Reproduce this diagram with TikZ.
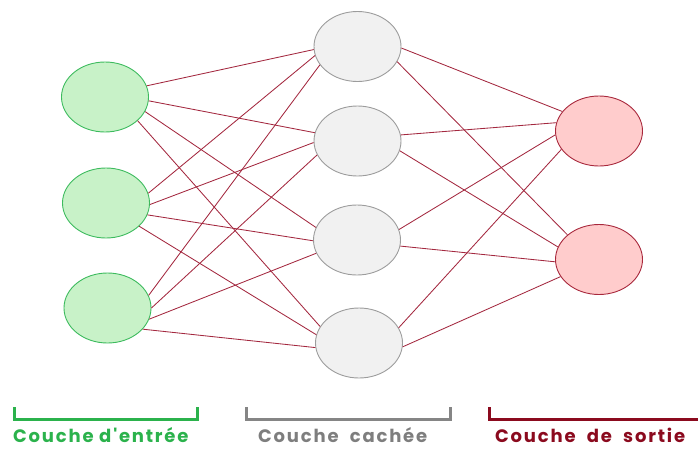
\documentclass[tikz,border=0pt]{standalone}
\usepackage{fontspec}
\newfontfamily\lblfont[LetterSpace=10]{Poppins}
\usetikzlibrary{shapes.geometric}
\definecolor{edgecol}{HTML}{A3283F}
\definecolor{ingreen}{HTML}{C8F2C8}
\definecolor{ingreenline}{HTML}{3DBB5E}
\definecolor{hidfill}{HTML}{F1F1F1}
\definecolor{hidline}{HTML}{9C9C9C}
\definecolor{outfill}{HTML}{FFCCCC}
\definecolor{outline}{HTML}{A8283C}
\definecolor{brgreen}{HTML}{2BB24C}
\definecolor{brgray}{HTML}{858585}
\definecolor{brred}{HTML}{8B0A1E}
\tikzset{
  neuron/.style={ellipse, minimum width=87pt, minimum height=70pt, inner sep=0pt, line width=0.9pt},
  inp/.style={neuron, fill=ingreen, draw=ingreenline},
  hid/.style={neuron, fill=hidfill, draw=hidline},
  outn/.style={neuron, fill=outfill, draw=outline},
  conn/.style={draw=edgecol, line width=0.85pt},
  bracket/.style={line width=3pt},
  lbl/.style={anchor=base west, inner sep=0pt, font=\lblfont\bfseries\fontsize{18}{20}\selectfont}
}
\begin{document}
\begin{tikzpicture}[x=1pt,y=-1pt]
\useasboundingbox (0,0) rectangle (698,448);
% nodes
\node[inp] (i1) at (105,97) {};
\node[inp] (i2) at (106,203) {};
\node[inp] (i3) at (107.5,308) {};
\node[hid] (h1) at (357.5,46.5) {};
\node[hid] (h2) at (357.5,141) {};
\node[hid] (h3) at (357,240) {};
\node[hid] (h4) at (359,343) {};
\node[outn] (o1) at (599,131) {};
\node[outn] (o2) at (599,259.5) {};
% input -> hidden
\draw[conn] (i1.15.6) -- (h1.184.6);
\draw[conn] (i1.-5.3) -- (h2.169.1);
\draw[conn] (i1.-20.6) -- (h3.163.7);
\draw[conn] (i1.-36.3) -- (h4.157.2);
\draw[conn] (i2.13.4) -- (h1.192.9);
\draw[conn] (i2.-2.7) -- (h2.182.7);
\draw[conn] (i2.-16.8) -- (h3.181.4);
\draw[conn] (i2.-35.2) -- (h4.169.2);
\draw[conn] (i3.17) -- (h1.206.9);
\draw[conn] (i3.0) -- (h2.199);
\draw[conn] (i3.-15.8) -- (h3.198);
\draw[conn] (i3.-31) -- (h4.186.8);
% hidden -> output
\draw[conn] (h1.-2) -- (o1.152.8);
\draw[conn] (h1.-21.4) -- (o2.142.6);
\draw[conn] (h2.8.2) -- (o1.169.5);
\draw[conn] (h2.-13.2) -- (o2.163.8);
\draw[conn] (h3.14.7) -- (o1.185.3);
\draw[conn] (h3.-8) -- (o2.183.3);
\draw[conn] (h4.21.5) -- (o1.206);
\draw[conn] (h4.-5.3) -- (o2.204.2);
% brackets
\coordinate (bg1) at (14.5,407);
\coordinate (bg2) at (197.5,407);
\draw[bracket, draw=brgreen] (bg1) |- (197.5,419.5) -- (bg2);
\coordinate (bh1) at (246.5,407);
\coordinate (bh2) at (450.5,407);
\draw[bracket, draw=brgray] (bh1) |- (450.5,419.5) -- (bh2);
\coordinate (bo1) at (489.5,407);
\coordinate (bo2) at (698,419.5);
\draw[bracket, draw=brred] (bo1) |- (bo2);
% labels
\node[lbl, text=brgreen] (lin) at (13,442) {Couche d'entrée};
\node[lbl, text=brgray!95!black] (lhid) at (258,442) {Couche\ \ cachée};
\node[lbl, text=brred] (lout) at (495,442) {Couche\ \ de\ \ sortie};
\end{tikzpicture}
\end{document}
